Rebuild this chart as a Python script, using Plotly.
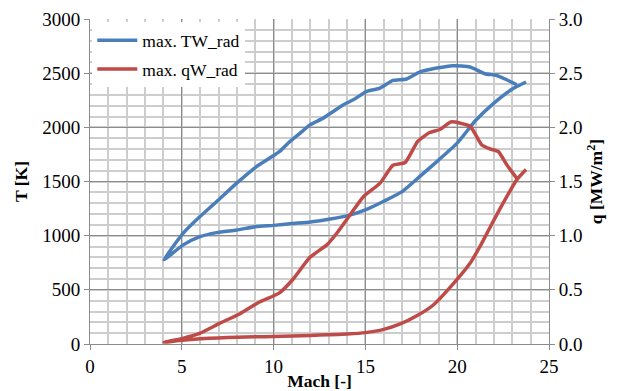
import plotly.graph_objects as go

# Wall temperature along the trajectory (Mach, T in K)
mach_tw = [23.24, 22.7, 22.15, 21.5, 20.7, 19.75, 18.88, 17.97, 17.24, 16.5, 15.8,
           15.07, 14.34, 13.8, 12.7, 11.98, 11.4, 10.8, 10.35, 9.98, 9.07, 7.99,
           6.9, 5.99, 5.08, 4.03,
           5.08, 5.99, 6.9, 7.99, 9.07, 10.0, 11.0, 12.0, 13.0, 14.0, 15.0, 16.0,
           17.0, 18.0, 19.0, 20.0, 21.0, 22.0, 23.0, 23.75]
tw_rad = [2393, 2439, 2479, 2495, 2557, 2569, 2547, 2512, 2446, 2433, 2362,
          2331, 2254, 2208, 2085, 2023, 1940, 1855, 1780, 1737, 1638, 1485,
          1315, 1176, 1023, 778,
          915, 991, 1028, 1053, 1084, 1095, 1112, 1127, 1152, 1183, 1238, 1318,
          1407, 1552, 1700, 1854, 2063, 2224, 2353, 2418]

# Wall heat flux along the trajectory (Mach, q in MW/m2)
mach_qw = [23.24, 22.7, 22.24, 21.8, 21.33, 20.7, 19.65, 19.06, 18.5, 17.85, 17.16,
           16.5, 15.8, 14.89, 14.16, 13.43, 12.9, 11.98, 11.07, 10.3, 9.26, 8.17,
           7.05, 6.0, 5.0, 4.03,
           5.0, 6.0, 7.0, 8.0, 9.0, 10.0, 11.0, 12.0, 13.0, 14.0, 15.0, 16.0,
           16.9, 17.8, 18.7, 19.6, 20.7, 21.24, 21.8, 22.5, 23.24, 23.75]
qw_rad = [1.53, 1.654, 1.777, 1.80, 1.839, 2.01, 2.05, 1.98, 1.952, 1.87, 1.675,
          1.65, 1.485, 1.36, 1.19, 1.02, 0.915, 0.80, 0.60, 0.47, 0.39, 0.28,
          0.19, 0.10, 0.05, 0.016,
          0.035, 0.048, 0.056, 0.062, 0.066, 0.069, 0.074, 0.079, 0.085, 0.092, 0.105, 0.135,
          0.185, 0.26, 0.36, 0.52, 0.745, 0.90, 1.08, 1.30, 1.515, 1.61]

x_ticks = [0, 5, 10, 15, 20, 25]
t_ticks = [0, 500, 1000, 1500, 2000, 2500, 3000]
q_ticks = [0.0, 0.5, 1.0, 1.5, 2.0, 2.5, 3.0]

BLUE = "#4A7EBB"
RED = "#BE4B48"
FONT = "Times New Roman, Liberation Serif, serif"
MAJOR = "#8c8c8c"
MINOR = "#cdcdcd"
tick_font = dict(family=FONT, size=19, color="#000")
title_font = dict(family=FONT, size=17.5, color="#000")

fig = go.Figure()
fig.add_trace(go.Scatter(
    x=mach_tw, y=tw_rad, mode="lines", name="max. TW_rad",
    line=dict(color=BLUE, width=3.5, shape="spline", smoothing=0.5),
    legendgroup="a"))
fig.add_trace(go.Scatter(
    x=mach_qw, y=qw_rad, mode="lines", name="max. qW_rad", yaxis="y2",
    line=dict(color=RED, width=3.5, shape="spline", smoothing=0.5),
    legendgroup="b"))

fig.update_layout(
    width=618, height=391,
    margin=dict(l=90, r=69, t=19, b=47),
    paper_bgcolor="white", plot_bgcolor="white",
    font=dict(family=FONT, size=17.5, color="#000"),
    showlegend=True,
    legend=dict(x=0.005, y=0.99, xanchor="left", yanchor="top",
                bgcolor="white", borderwidth=0, itemwidth=40,
                font=dict(family=FONT, size=17.5, color="#000"),
                traceorder="grouped", tracegroupgap=3),
    xaxis=dict(range=[0, 25], tickvals=x_ticks, ticktext=[str(v) for v in x_ticks],
               tickfont=tick_font, automargin=False,
               showgrid=True, gridcolor=MAJOR, gridwidth=1,
               minor=dict(dtick=1, showgrid=True, gridcolor=MINOR, gridwidth=1.5),
               showline=True, linecolor=MAJOR, linewidth=1,
               ticks="outside", ticklen=5, tickcolor=MAJOR,
               zeroline=False,
               title=dict(text="<b>Mach [-]</b>", standoff=0, font=title_font)),
    yaxis=dict(range=[0, 3000], tickvals=t_ticks, ticktext=[str(v) for v in t_ticks],
               tickfont=tick_font, automargin=False,
               showgrid=True, gridcolor=MAJOR, gridwidth=1,
               minor=dict(dtick=100, showgrid=True, gridcolor=MINOR, gridwidth=1.5),
               showline=True, linecolor=MAJOR, linewidth=1,
               ticks="outside", ticklen=5, tickcolor=MAJOR,
               zeroline=False,
               title=dict(text="<b>T [K]</b>", standoff=10, font=title_font)),
    yaxis2=dict(range=[0, 3], overlaying="y", side="right",
                tickvals=q_ticks, ticktext=[f"{v:.1f}" for v in q_ticks],
                tickfont=tick_font, automargin=False,
                showgrid=False, zeroline=False,
                showline=True, linecolor=MAJOR, linewidth=1,
                ticks="outside", ticklen=5, tickcolor=MAJOR,
                title=dict(text="<b>q [MW/m<sup>2</sup>]</b>", standoff=8,
                           font=title_font)),
)

fig.write_html("out.html")
